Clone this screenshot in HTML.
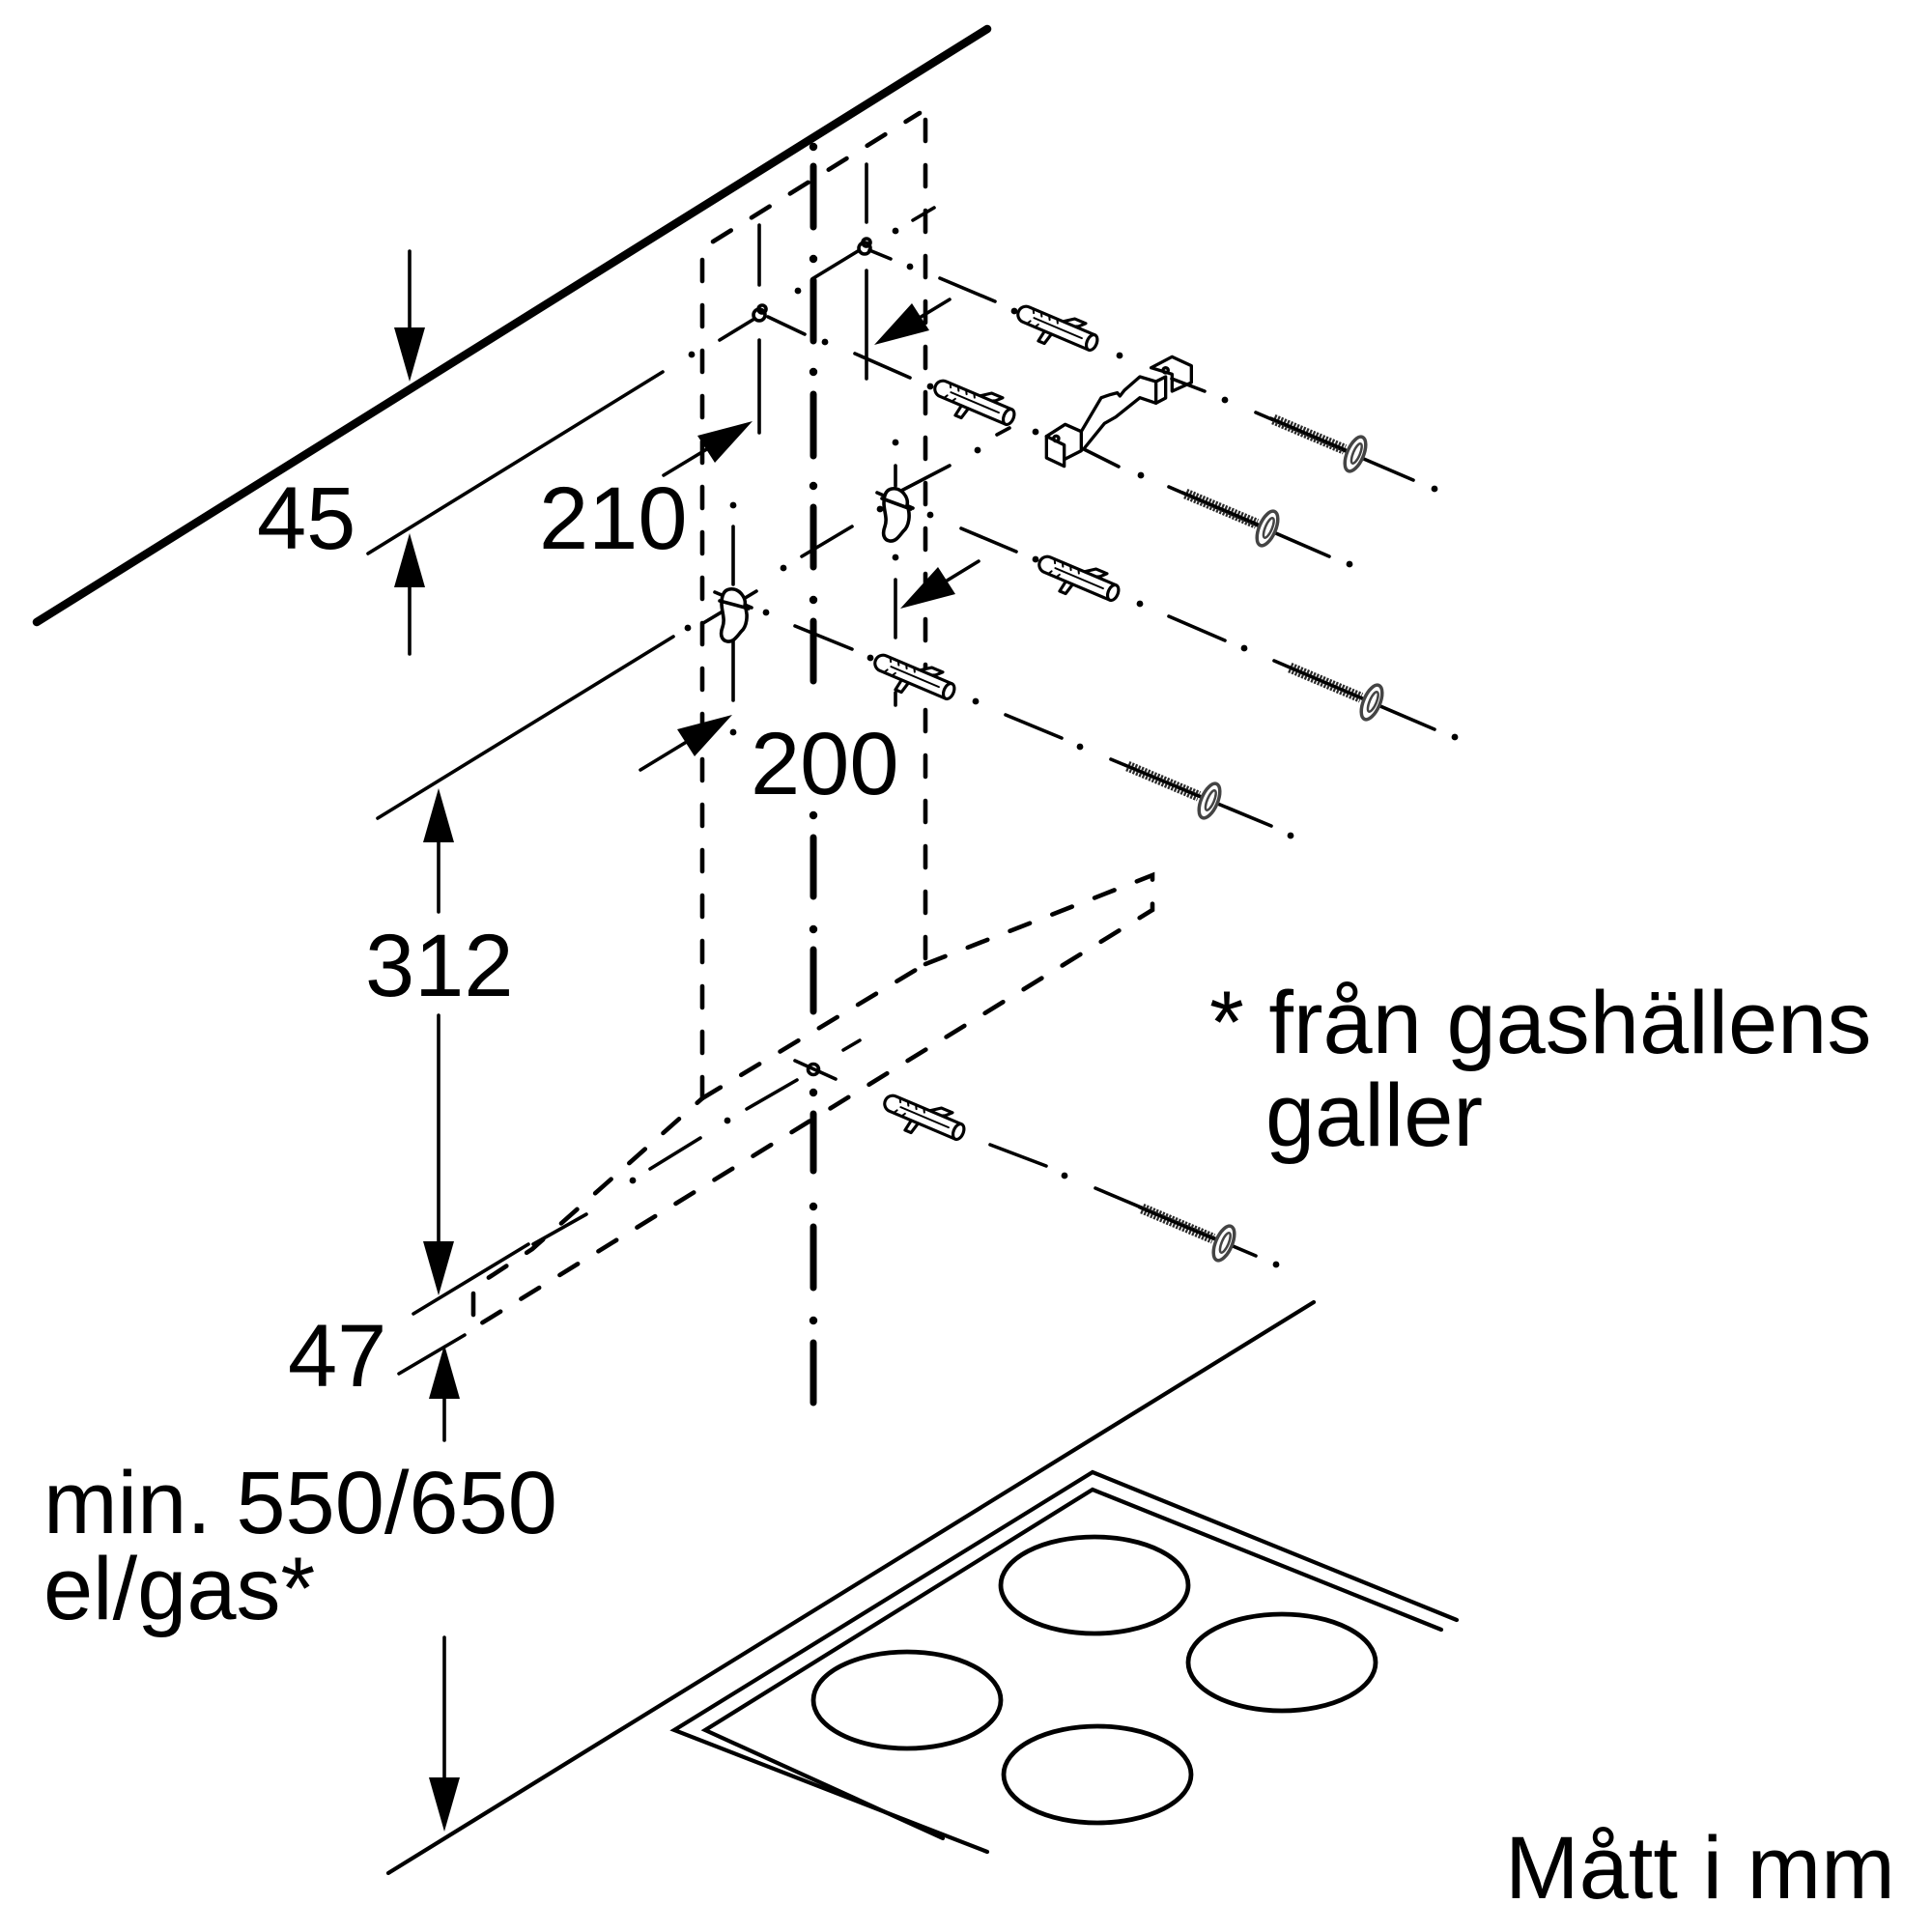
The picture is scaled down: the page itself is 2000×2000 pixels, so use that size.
<!DOCTYPE html>
<html><head><meta charset="utf-8">
<style>html,body{margin:0;padding:0;background:#fff}svg{display:block}
text{font-family:"Liberation Sans",Arial,sans-serif;font-size:92px;fill:#000}</style></head>
<body>
<svg xmlns="http://www.w3.org/2000/svg" width="2000" height="2000" viewBox="0 0 2000 2000">
<defs>
<g id="dowel" stroke="#000" stroke-width="2.8" stroke-linejoin="round" stroke-linecap="round" fill="#fff">
  <path d="M38,-6 L49,-14 L60,-14 L55,-9 L49,-6"/>
  <path d="M28,6 L26,18 L32,18 L35,6"/>
  <path d="M72,-7.5 L6,-7.5 A7.5,7.5 0 0 0 6,7.5 L72,7.5 Z"/>
  <path d="M10,-7.5 L12,-4 M18,-7.5 L20,-4 M26,-7.5 L28,-4 M34,-7.5 L36,-4 M10,7.5 L12,4 M18,7.5 L20,4 M14,0 L62,0" fill="none" stroke-width="1.8"/>
  <ellipse cx="72" cy="0" rx="4.5" ry="7.5"/>
</g>
<g id="screw">
  <line x1="-92" y1="0" x2="-12" y2="0" stroke="#2a2a2a" stroke-width="11" stroke-dasharray="2.2 1.4"/>
  <line x1="-96" y1="0" x2="-8" y2="0" stroke="#000" stroke-width="3"/>
  <ellipse cx="0" cy="0" rx="8.5" ry="19" fill="#fff" stroke="#444" stroke-width="3.5"/>
  <ellipse cx="1" cy="-1" rx="3.5" ry="11" fill="none" stroke="#444" stroke-width="2.5"/>
</g>
</defs>
<rect width="2000" height="2000" fill="#fff"/>

<!-- wall line -->
<line x1="38" y1="644" x2="1022" y2="30" stroke="#000" stroke-width="8.5" stroke-linecap="round"/>

<!-- hood dashed outline -->
<g fill="none" stroke="#000" stroke-width="4.6" stroke-linecap="round" stroke-dasharray="22 25">
  <path d="M727,1137 L727,257 L952,117"/>
  <path d="M958,124 L958,998"/>
  <path d="M727,1137 L958,998"/>
  <path d="M958,998 L1193,906 L1193,942 L490,1375 L490,1333 L551,1293 L727,1137"/>
</g>

<!-- centerline -->
<g stroke="#000" stroke-width="7" stroke-linecap="round" fill="none">
  <path d="M842,172V235 M842,290V353 M842,408V472 M842,525V587 M842,643V705 M842,867V928 M842,983V1047 M842,1153V1212 M842,1270V1333 M842,1390V1452"/>
</g>
<g fill="#000">
  <circle cx="842" cy="152" r="4.2"/><circle cx="842" cy="268" r="4.2"/><circle cx="842" cy="385" r="4.2"/>
  <circle cx="842" cy="503" r="4.2"/><circle cx="842" cy="621" r="4.2"/><circle cx="842" cy="844" r="4.2"/>
  <circle cx="842" cy="962" r="4.2"/><circle cx="842" cy="1131" r="4.2"/><circle cx="842" cy="1249" r="4.2"/>
  <circle cx="842" cy="1367" r="4.2"/>
</g>

<!-- thin lines -->
<g stroke="#000" stroke-width="3.6" stroke-linecap="round" fill="none">
  <path d="M381,573 L686,385"/>
  <path d="M391,847 L697,659"/>
  <path d="M428,1360 L547,1288"/>
  <path d="M413,1422 L481,1382"/>
  <path d="M786,233V295 M786,352V448"/>
  <path d="M897,170V230 M897,280V392"/>
  <path d="M759,545V605 M759,663V725"/>
  <path d="M927,482V503 M927,600V660 M927,717V730"/>
  <path d="M745,352 L781,330"/>
  <path d="M842,288 L888,260"/>
  <path d="M945,228 L967,215"/>
  <path d="M830,576 L882,545"/>
  <path d="M933,508 L983,482"/>
  <path d="M728,645 L783,612"/>
  <path d="M1032,450 L1045,443"/>
  <path d="M552,1288 L607,1257 M673,1210 L725,1178 M773,1148 L825,1118 M873,1087 L890,1077"/>
  <path d="M900,259 L922,268 M973,288 L1030,312 M1213,392 L1247,405 M1300,427 L1463,497"/>
  <path d="M795,328 L833,346 M885,366 L942,391 M1122,465 L1158,483 M1210,504 L1376,576"/>
  <path d="M908,510 L945,526 M995,547 L1052,571 M1210,638 L1268,663 M1319,684 L1485,755"/>
  <path d="M740,613 L778,629 M823,648 L882,672 M1041,740 L1099,764 M1150,786 L1316,855"/>
  <path d="M823,1098 L865,1117 M1025,1185 L1083,1207 M1134,1230 L1300,1300"/>
  <circle cx="786" cy="326" r="6"/>
  <circle cx="789" cy="320" r="4"/>
  <circle cx="895" cy="257" r="6"/>
  <circle cx="897" cy="251" r="4"/>
  <circle cx="842" cy="1107" r="5.5"/>
  <path transform="translate(759,637)" d="M-4,-27 C6,-29 14,-18 12,-10 C16,0 14,12 8,17 C4,22 0,28 -6,27 C-12,26 -14,20 -11,12 C-8,4 -12,-4 -12,-12 C-12,-20 -10,-26 -4,-27 Z" fill="#fff"/>
  <path transform="translate(927,533)" d="M-4,-27 C6,-29 14,-18 12,-10 C16,0 14,12 8,17 C4,22 0,28 -6,27 C-12,26 -14,20 -11,12 C-8,4 -12,-4 -12,-12 C-12,-20 -10,-26 -4,-27 Z" fill="#fff"/>
  <path d="M745,622 L775,630 M913,516 L943,527"/>
</g>

<!-- small dots -->
<g fill="#000">
  <circle cx="716" cy="367" r="3.4"/><circle cx="826" cy="301" r="3.4"/><circle cx="927" cy="239" r="3.4"/>
  <circle cx="942" cy="276" r="3.4"/><circle cx="854" cy="354" r="3.4"/><circle cx="963" cy="400" r="3.4"/>
  <circle cx="1050" cy="322" r="3.4"/><circle cx="1159" cy="368" r="3.4"/><circle cx="1268" cy="414" r="3.4"/>
  <circle cx="1485" cy="506" r="3.4"/><circle cx="1072" cy="447" r="3.4"/><circle cx="1181" cy="492" r="3.4"/>
  <circle cx="1397" cy="584" r="3.4"/><circle cx="1012" cy="466" r="3.4"/><circle cx="927" cy="458" r="3.4"/>
  <circle cx="927" cy="577" r="3.4"/><circle cx="963" cy="533" r="3.4"/><circle cx="1072" cy="579" r="3.4"/>
  <circle cx="1180" cy="625" r="3.4"/><circle cx="1288" cy="671" r="3.4"/><circle cx="1506" cy="763" r="3.4"/>
  <circle cx="759" cy="523" r="3.4"/><circle cx="811" cy="588" r="3.4"/><circle cx="793" cy="634" r="3.4"/>
  <circle cx="712" cy="650" r="3.4"/><circle cx="911" cy="527" r="3.4"/><circle cx="901" cy="681" r="3.4"/>
  <circle cx="1010" cy="726" r="3.4"/><circle cx="1118" cy="773" r="3.4"/><circle cx="1336" cy="865" r="3.4"/>
  <circle cx="759" cy="758" r="3.4"/><circle cx="655" cy="1222" r="3.4"/><circle cx="753" cy="1160" r="3.4"/>
  <circle cx="1102" cy="1217" r="3.4"/><circle cx="1321" cy="1309" r="3.4"/>
</g>

<!-- bracket -->
<g transform="translate(1040,310) scale(0.33333)" fill="none" stroke="#000" stroke-width="10" stroke-linejoin="round" stroke-linecap="round">
  <path d="M130,425 L185,452 L185,518 L130,492 Z"/>
  <path d="M130,425 L188,388 L238,410 L238,470 L185,497"/>
  <path d="M238,410 L300,305 L330,295 L350,290 L358,300 L372,282 L420,240 L470,255"/>
  <path d="M245,465 L310,385 L345,365 L420,305 L470,322"/>
  <path d="M470,255 L470,322 L500,306 L500,240 L470,255"/>
  <path d="M455,212 L520,178 L580,206 L580,258 L520,285 L520,232 L455,212"/>
  <circle cx="160" cy="432" r="8"/>
  <circle cx="500" cy="220" r="8"/>
</g>

<!-- dowels -->
<use href="#dowel" transform="translate(1056,323) rotate(23) scale(1.12)"/>
<use href="#dowel" transform="translate(970,400) rotate(23) scale(1.12)"/>
<use href="#dowel" transform="translate(1078,582) rotate(23) scale(1.12)"/>
<use href="#dowel" transform="translate(908,684) rotate(23) scale(1.12)"/>
<use href="#dowel" transform="translate(918,1140) rotate(23) scale(1.12)"/>

<!-- screws -->
<use href="#screw" transform="translate(1403,470) rotate(23)"/>
<use href="#screw" transform="translate(1312,547) rotate(23)"/>
<use href="#screw" transform="translate(1420,727) rotate(23)"/>
<use href="#screw" transform="translate(1252,829) rotate(23)"/>
<use href="#screw" transform="translate(1267,1287) rotate(23)"/>

<!-- dimension arrows -->
<g stroke="#000" stroke-width="3.6" fill="none" stroke-linecap="round">
  <path d="M424,260V345 M424,600V677 M454,866V944 M454,1051V1290 M460,1440V1491 M460,1695V1845"/>
  <path d="M687,492 L735,463 M663,797 L714,766 M983,310 L950,330 M1013,581 L977,603"/>
</g>
<g fill="#000">
  <polygon points="408,339 440,339 424,395"/>
  <polygon points="408,608 440,608 424,552"/>
  <polygon points="438,872 470,872 454,816"/>
  <polygon points="438,1285 470,1285 454,1341"/>
  <polygon points="444,1448 476,1448 460,1392"/>
  <polygon points="444,1840 476,1840 460,1896"/>
  <polygon points="740,479 722,451 779,436"/>
  <polygon points="719,783 701,755 758,740"/>
  <polygon points="962,342 944,314 905,357"/>
  <polygon points="989,615 971,587 932,630"/>
</g>

<!-- floor and cooktop -->
<g fill="none" stroke="#000" stroke-width="4.2" stroke-linecap="round" stroke-linejoin="miter">
  <path d="M402,1939 L1360,1348"/>
  <path d="M1022,1917 L698,1791 L1131,1524 L1508,1677"/>
  <path d="M976,1903 L730,1791 L1131,1542 L1492,1687"/>
  <ellipse cx="1133" cy="1641" rx="97" ry="50" stroke-width="4.8"/>
  <ellipse cx="1327" cy="1721" rx="97" ry="50" stroke-width="4.8"/>
  <ellipse cx="1136" cy="1837" rx="97" ry="50" stroke-width="4.8"/>
  <ellipse cx="939" cy="1760" rx="97" ry="50" stroke-width="4.8"/>
</g>

<!-- labels -->
<text x="266" y="568">45</text>
<text x="558" y="568">210</text>
<text x="777" y="822">200</text>
<text x="378" y="1031">312</text>
<text x="298" y="1435">47</text>
<text x="45" y="1587">min. 550/650</text>
<text x="45" y="1676">el/gas*</text>
<text x="1252" y="1090">* från gashällens</text>
<text x="1310" y="1186">galler</text>
<text x="1558" y="1965">Mått i mm</text>
</svg>
</body></html>
